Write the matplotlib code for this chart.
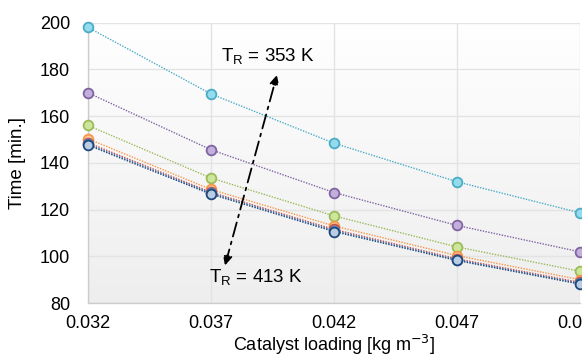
import numpy as np
import matplotlib
matplotlib.use("Agg")
import matplotlib.pyplot as plt

# ── data ──
loading = [0.032, 0.037, 0.042, 0.047, 0.052]
t_353 = [198.0, 169.5, 148.4, 131.9, 118.6]
t_363 = [170.0, 145.6, 127.3, 113.2, 101.9]
t_373 = [156.0, 133.5, 117.3, 104.0, 93.6]
t_383 = [150.3, 128.6, 113.0, 100.3, 90.0]
t_393 = [148.6, 127.4, 111.5, 98.9, 88.8]
t_403 = [148.0, 127.0, 111.0, 98.5, 88.4]
t_413 = [147.6, 126.6, 110.6, 98.2, 88.1]

series = [
    (t_353, "#4bacc6", "#93dcee"),
    (t_363, "#8064a2", "#c3afdb"),
    (t_373, "#9bbb59", "#cde79a"),
    (t_383, "#f79646", "#fcc99a"),
    (t_393, "#c0504d", "#e6b9b8"),
    (t_403, "#4f81bd", "#b9cde5"),
    (t_413, "#1f497d", "#b9cde5"),
]

plt.rcParams["font.family"] = ["Liberation Sans", "DejaVu Sans"]

fig = plt.figure(figsize=(5.82, 3.57), dpi=100)
ax = fig.add_axes([88 / 582, 1 - 303 / 357, 492 / 582, 280.3 / 357])

# light vertical gradient background
grad = np.linspace(0, 1, 256).reshape(-1, 1)
ax.imshow(grad, extent=[0, 1, 0, 1], transform=ax.transAxes, aspect="auto",
          cmap=matplotlib.colors.LinearSegmentedColormap.from_list(
              "bg", ["#eeeeee", "#ffffff"]), origin="lower", zorder=0)

for vals, edge, face in series:
    ax.plot(loading, vals, linestyle=(0, (1, 1)), color=edge, linewidth=1.0,
            marker="o", markersize=7, markerfacecolor=face,
            markeredgecolor=edge, markeredgewidth=1.3, zorder=3,
            clip_on=False)

ax.set_xlim(0.032, 0.052)
ax.set_ylim(80, 200)
ax.set_xticks(loading)
ax.set_xticklabels(["0.032", "0.037", "0.042", "0.047", "0.052"])
ax.set_yticks(range(80, 201, 20))
ax.tick_params(length=0, labelsize=13, colors="black")
ax.tick_params(axis="x", pad=9)
ax.tick_params(axis="y", pad=13)
ax.grid(True, color="#e3e3e3", linewidth=1.0, zorder=1)
ax.set_axisbelow(True)
for s in ["top", "right"]:
    ax.spines[s].set_visible(False)
for s in ["left", "bottom"]:
    ax.spines[s].set_color("#cccccc")
    ax.spines[s].set_linewidth(1.0)

ax.set_xlabel("Catalyst loading [kg m$^{-3}$]", fontsize=13, labelpad=0)
ax.set_ylabel("Time [min.]", fontsize=13.5, labelpad=10)

ax.annotate("", xy=(0.03968, 177.6), xytext=(0.03757, 96.1),
            arrowprops=dict(arrowstyle="<|-|>", color="black", lw=1.3,
                            linestyle=(0, (8, 3, 1.5, 3)),
                            mutation_scale=14, shrinkA=0, shrinkB=0),
            zorder=4)
ax.text(0.03932, 185.3, "T$_\\mathregular{R}$ = 353 K", fontsize=13.5,
        ha="center", va="center", zorder=5)
ax.text(0.03883, 90.6, "T$_\\mathregular{R}$ = 413 K", fontsize=13.5,
        ha="center", va="center", zorder=5)

fig.savefig("out.png", dpi=100)
